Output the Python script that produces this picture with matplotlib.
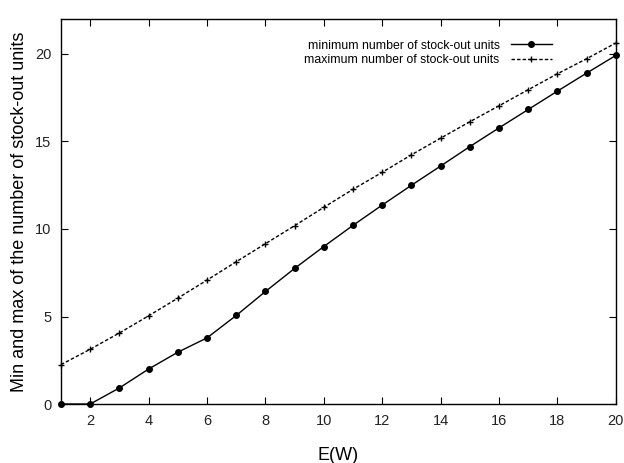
import matplotlib
matplotlib.use("Agg")
import matplotlib.pyplot as plt

plt.rcParams['font.family'] = ['Liberation Sans', 'DejaVu Sans']

ew = list(range(1, 21))
min_units = [0, 0, 0.92, 2.0, 2.96, 3.78, 5.06, 6.43, 7.75, 9.0,
             10.21, 11.37, 12.5, 13.6, 14.71, 15.78, 16.83, 17.88, 18.91, 19.92]
max_units = [2.25, 3.13, 4.06, 5.04, 6.05, 7.08, 8.13, 9.16, 10.19, 11.24,
             12.27, 13.24, 14.24, 15.19, 16.13, 17.04, 17.96, 18.87, 19.73, 20.63]
xticks = [2, 4, 6, 8, 10, 12, 14, 16, 18, 20]
yticks = [0, 5, 10, 15, 20]

fig = plt.figure(figsize=(6.24, 4.63), dpi=100)
ax = fig.add_axes([0.0978, 0.1274, 0.8892, 0.8316])

ax.plot(ew, min_units, color='black', lw=1.0, marker='o', markersize=4,
        label='minimum number of stock-out units', clip_on=False, zorder=3)
ax.plot(ew, max_units, color='black', lw=1.0, ls=(0, (2.5, 1.5)), marker='+',
        markersize=5, markeredgewidth=1.0,
        label='maximum number of stock-out units', clip_on=False, zorder=3)

ax.set_xlim(1, 20)
ax.set_ylim(0, 22)
ax.set_xticks(xticks)
ax.set_yticks(yticks)
ax.tick_params(direction='in', top=True, right=True, length=5, width=0.8,
               labelsize=10.5, pad=7, labelcolor='#222222')
for s in ax.spines.values():
    s.set_linewidth(1.0)

ax.set_xlabel('E(W)', fontsize=13, labelpad=14)
ax.set_ylabel('Min and max of the number of stock-out units', fontsize=13, labelpad=5)

leg = ax.legend(loc='upper right', bbox_to_anchor=(0.905, 0.975), frameon=False,
                markerfirst=False, fontsize=8.8, handlelength=3.4,
                handletextpad=0.9, labelspacing=0.2)
for t in leg.get_texts():
    t.set_ha('right')

fig.savefig('out.png', dpi=100)
